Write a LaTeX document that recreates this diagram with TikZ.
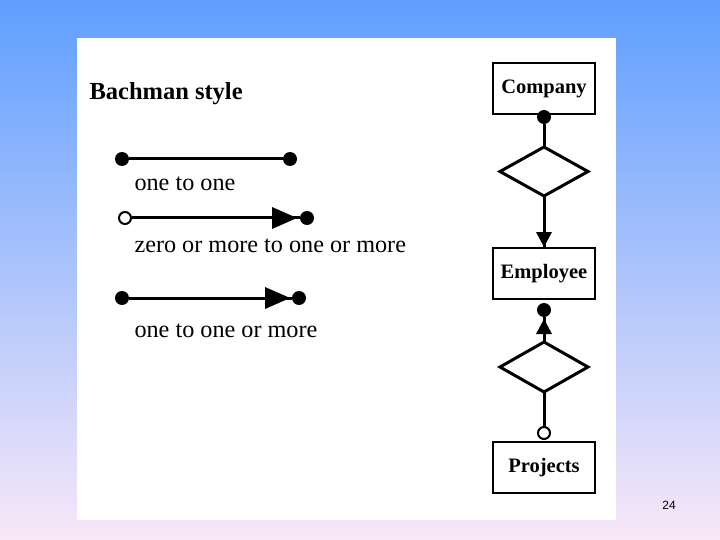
\documentclass[tikz,border=0pt]{standalone}
\usepackage{fontspec}
\setmainfont{Liberation Serif}
\newfontfamily\numfont{Liberation Sans}
\begin{document}
\begin{tikzpicture}[x=1pt,y=-1pt,
  lnk/.style={line width=3pt},
  fdot/.style={circle,fill=black,inner sep=0pt,minimum size=14pt},
  odot/.style={circle,draw=black,fill=white,line width=2pt,inner sep=0pt,minimum size=12pt},
  ent/.style={draw=black,line width=2pt,minimum width=102pt,minimum height=51pt,font=\fontsize{20.5}{24}\selectfont\bfseries},
  rel/.style={draw=black,line width=3pt,line join=miter},
  lbl/.style={anchor=west,font=\fontsize{24.2}{27}\selectfont},
  tri/.style={fill=black}
]
\useasboundingbox (0,0) rectangle (720,540);
\shade[top color={rgb,255:red,95;green,159;blue,255}, bottom color={rgb,255:red,248;green,232;blue,248}] (0,0) rectangle (720,540);
\fill[white] (77,38) rectangle (616,520);

\node[anchor=west,font=\fontsize{24.5}{28}\selectfont\bfseries] (title) at (86,94) {Bachman style};

% line 1
\node[fdot] (a1) at (122,159) {};
\node[fdot] (b1) at (290,159) {};
\draw[lnk] (a1) -- (b1);
\node[lbl] (t1) at (131,184) {one to one};

% line 2
\node[odot] (a2) at (125,218) {};
\node[fdot] (b2) at (307,218) {};
\draw[lnk] (a2) -- (b2);
\fill[tri] (272,207) -- (297,218) -- (272,229) -- cycle;
\node[lbl] (t2) at (131,246) {zero or more to one or more};

% line 3
\node[fdot] (a3) at (122,298) {};
\node[fdot] (b3) at (299,298) {};
\draw[lnk] (a3) -- (b3);
\fill[tri] (265,287) -- (290,298) -- (265,309) -- cycle;
\node[lbl] (t3) at (131,331) {one to one or more};

% right diagram
\node[ent] (comp) at (544,89) {Company};
\node[ent] (emp) at (544,273.5) {Employee};
\node[ent] (proj) at (544,467.5) {Projects};

\coordinate (r1n) at (544,147);
\coordinate (r1s) at (544,196);
\draw[rel] (r1n) -- (588,171.5) -- (r1s) -- (500,171.5) -- cycle;
\coordinate (r2n) at (544,342);
\coordinate (r2s) at (544,392);
\draw[rel] (r2n) -- (588,367) -- (r2s) -- (500,367) -- cycle;

\node[fdot] (d1) at (544,117) {};
\draw[lnk] (d1) -- (r1n);
\draw[lnk] (r1s) -- (emp.north);
\fill[tri] (536,232) -- (552,232) -- (544,247) -- cycle;

\node[fdot] (d2) at (544,310) {};
\draw[lnk] (d2) -- (r2n);
\fill[tri] (536,334) -- (552,334) -- (544,319) -- cycle;
\node[odot] (o3) at (544,433) {};
\draw[lnk] (r2s) -- (o3);

\node[font=\numfont\fontsize{12}{14}\selectfont] (pg) at (669,505) {24};
\end{tikzpicture}
\end{document}
